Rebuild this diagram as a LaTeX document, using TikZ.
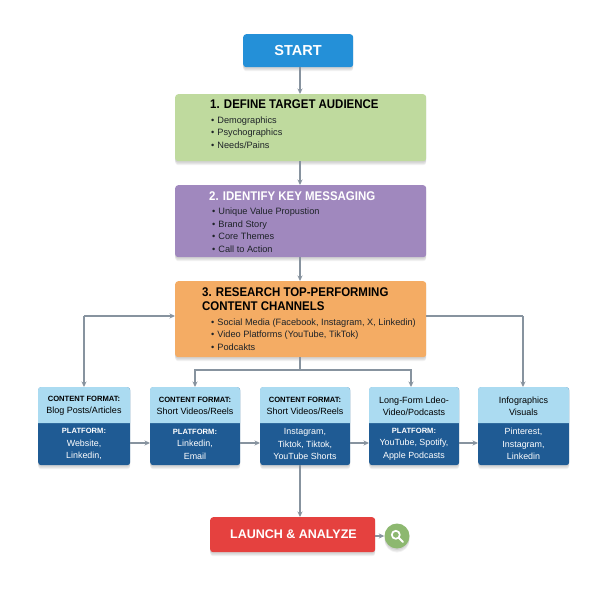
\documentclass[tikz,border=0pt]{standalone}
\usepackage{fontspec}
\setmainfont{Liberation Sans}
\usetikzlibrary{arrows.meta,calc,shadows}
\definecolor{startblue}{HTML}{2490D8}
\definecolor{greenbox}{HTML}{BFDA9E}
\definecolor{purplebox}{HTML}{A088BE}
\definecolor{orangebox}{HTML}{F4AC64}
\definecolor{cardtop}{HTML}{ABDBF1}
\definecolor{cardbot}{HTML}{1F5B94}
\definecolor{redbox}{HTML}{E5413F}
\definecolor{greenc}{HTML}{8DB870}
\definecolor{linecol}{HTML}{87939F}
\definecolor{darktxt}{HTML}{1E2328}
\tikzset{
  x=1pt,y=-1pt,
  softshadow/.style={
    general shadow={shadow xshift=0pt,shadow yshift=-4pt,opacity=.05,fill=black},
    general shadow={shadow xshift=0pt,shadow yshift=-3pt,opacity=.06,fill=black},
    general shadow={shadow xshift=0pt,shadow yshift=-1.5pt,opacity=.07,fill=black}},
  box/.style={rounded corners=3pt,inner sep=0pt,anchor=north west,softshadow},
  conn/.style={draw=linecol,line width=1.1pt,-{Stealth[length=5.5pt,width=5pt]}},
  connplain/.style={draw=linecol,line width=1.1pt},
  head/.style={font=\bfseries\fontsize{12.6}{14.5}\selectfont,xscale=.91,transform shape,anchor=west,align=left,inner sep=0pt},
  items/.style={font=\fontsize{9.2}{12.5}\selectfont,anchor=north west,align=left,inner sep=0pt,text=darktxt},
  cardhead/.style={font=\fontsize{9}{12.3}\selectfont,align=center,inner sep=0pt,text=black},
  cardbody/.style={font=\fontsize{8.9}{12.6}\selectfont,align=center,inner sep=0pt,text=white},
}
\newcommand{\fmt}{{\bfseries\fontsize{7.6}{12.3}\selectfont CONTENT FORMAT:}}
\newcommand{\plat}{{\bfseries\fontsize{7.6}{12.6}\selectfont PLATFORM:}}
\newcommand{\boxat}[6]{% name,x1,y1,x2,y2,color
  \node[box,fill=#6,minimum width=#4pt-#2pt,minimum height=#5pt-#3pt] (#1) at (#2,#3) {};}
\newcommand{\card}[5]{% name,x1,x2,head,body
  \node[box,fill=cardbot,minimum width=#3pt-#2pt,minimum height=78pt] (#1) at (#2,387) {};
  \fill[cardtop] (#2,423) [rounded corners=3pt] -- (#2,387) -- (#3,387) [sharp corners] -- (#3,423) -- cycle;
  \node[cardhead] (#1h) at ({(#2+#3)/2},406) {#4};
  \node[cardbody] (#1b) at ({(#2+#3)/2},444) {#5};}
\begin{document}
\begin{tikzpicture}
\useasboundingbox (0,0) rectangle (600,600);
\fill[white] (0,0) rectangle (600,600);
\coordinate (axis) at (300,0);
% main boxes
\boxat{start}{243}{34}{353}{67}{startblue}
\node[font=\bfseries\fontsize{14.5}{16}\selectfont,text=white] (startt) at (298,51) {START};
\boxat{aud}{175}{94}{426}{161}{greenbox}
\node[head,text=black] (audh) at (210,104.5) {1. DEFINE TARGET AUDIENCE};
\node[items] (audi) at (211,116.5) {•\hspace{3pt}Demographics\\•\hspace{3pt}Psychographics\\•\hspace{3pt}Needs/Pains};
\boxat{msg}{175}{185}{426}{257}{purplebox}
\node[head,text=white] (msgh) at (209,196) {2. IDENTIFY KEY MESSAGING};
\node[items] (msgi) at (212,208) {•\hspace{3pt}Unique Value Propustion\\•\hspace{3pt}Brand Story\\•\hspace{3pt}Core Themes\\•\hspace{3pt}Call to Action};
\boxat{res}{175}{281}{426}{357}{orangebox}
\node[head,text=black] (resh) at (202,299) {3. RESEARCH TOP-PERFORMING\\CONTENT CHANNELS};
\node[items] (resi) at (211,318.5) {•\hspace{3pt}Social Media (Facebook, Instagram, X, Linkedin)\\•\hspace{3pt}Video Platforms (YouTube, TikTok)\\•\hspace{3pt}Podcakts};
% cards
\card{c1}{38}{130}{\fmt\\Blog Posts/Articles}{\plat\\Website,\\Linkedin,}
\card{c2}{150}{240}{\fmt\\Short Videos/Reels}{\plat\\Linkedin,\\Email}
\card{c3}{260}{350}{\fmt\\Short Videos/Reels}{Instagram,\\Tiktok, Tiktok,\\YouTube Shorts}
\card{c4}{369}{459}{Long-Form Ldeo-\\Video/Podcasts}{\plat\\YouTube, Spotify,\\Apple Podcasts}
\card{c5}{478}{569}{Infographics\\Visuals}{Pinterest,\\Instagram,\\Linkedin}
% launch
\boxat{lau}{210}{517}{375}{552}{redbox}
\node[font=\bfseries\fontsize{12.5}{14}\selectfont,text=white] (laut) at (293.5,534.5) {LAUNCH \& ANALYZE};
\node[circle,fill=greenc,minimum size=25pt,inner sep=0pt,softshadow] (mag) at (397,536) {};
\draw[white,line width=1.7pt] ($(mag)+(-1.2,-1.2)$) circle (4pt);
\draw[white,line width=2pt,line cap=round] ($(mag)+(1.8,1.8)$) -- ($(mag)+(6,6)$);
% connectors
\draw[conn] (start.south -| axis) -- (aud.north -| axis);
\draw[conn] (aud.south -| axis) -- (msg.north -| axis);
\draw[conn] (msg.south -| axis) -- (res.north -| axis);
\coordinate (lt) at (84,316);
\coordinate (rt) at (523,316);
\draw[conn] (lt) -- (res.west |- lt);
\draw[conn] (lt) -- (lt |- c1.north);
\draw[connplain] (res.east |- rt) -- (rt);
\draw[conn] (rt) -- (rt |- c5.north);
\coordinate (hub) at (300,370);
\draw[connplain] (res.south -| axis) -- (hub);
\draw[conn] (hub) -- (195,370) -- (195,387 |- c2.north);
\draw[conn] (hub) -- (411,370) -- (411,387 |- c4.north);
\draw[conn] (c1.east |- 0,443) -- (c2.west |- 0,443);
\draw[conn] (c2.east |- 0,443) -- (c3.west |- 0,443);
\draw[conn] (c3.east |- 0,443) -- (c4.west |- 0,443);
\draw[conn] (c4.east |- 0,443) -- (c5.west |- 0,443);
\draw[conn] (c3.south -| axis) -- (lau.north -| axis);
\draw[conn] (lau.east |- mag) -- (mag.west);
\end{tikzpicture}
\end{document}
